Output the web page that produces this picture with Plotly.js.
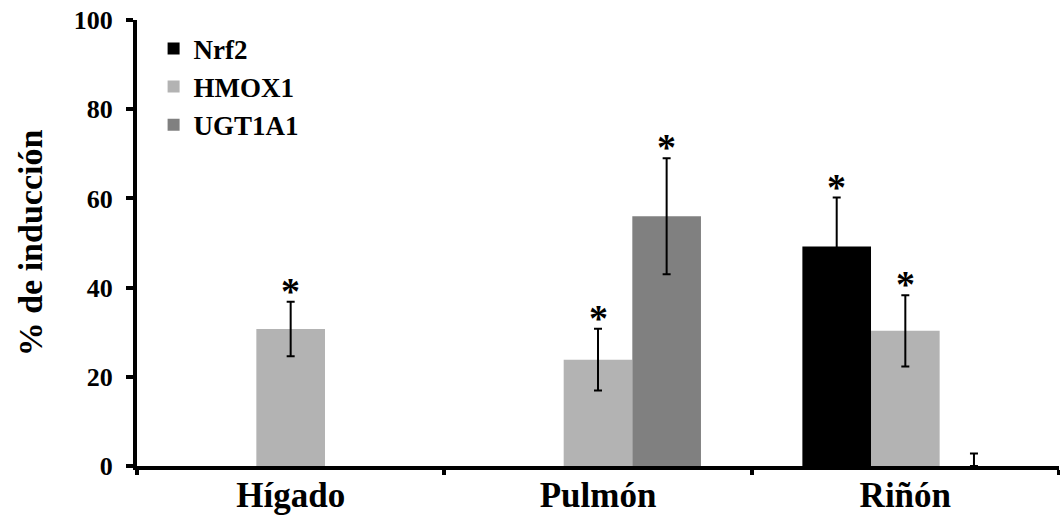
<!DOCTYPE html>
<html>
<head>
<meta charset="utf-8">
<script src="https://cdn.plot.ly/plotly-3.0.1.min.js"></script>
<style>
  html, body { margin: 0; padding: 0; background: #ffffff; }
  #chart { width: 1060px; height: 516px; }
</style>
</head>
<body>
<div id="chart"></div>
<script>
// Categories (tissues)
const categories = ['Hígado', 'Pulmón', 'Riñón'];

// Series names
const seriesNames = ['Nrf2', 'HMOX1', 'UGT1A1'];

// Series values (% de inducción)
const nrf2Values   = [null, null, 49.2];
const nrf2ErrUp    = [null, null, 11.0];
const nrf2ErrDown  = [null, null, 11.0];

const hmox1Values  = [30.7, 23.85, 30.3];
const hmox1ErrUp   = [6.1, 6.9, 8.0];
const hmox1ErrDown = [6.1, 6.9, 8.0];

const ugtValues    = [null, 56.0, 0];
const ugtErrUp     = [null, 13.0, 2.8];
const ugtErrDown   = [null, 13.0, 0];

// Significance marks (asterisks)
const nrf2Sig  = [false, false, true];
const hmox1Sig = [true, true, true];
const ugtSig   = [false, true, false];

const yTickVals = [0, 20, 40, 60, 80, 100];

const FONT = '"Liberation Serif", "Times New Roman", Times, serif';

function barTrace(name, vals, up, down, color) {
  return {
    type: 'bar',
    name: '<b>' + name + '</b>',
    x: categories,
    y: vals,
    marker: { color: color, line: { width: 0 } },
    error_y: {
      type: 'data', symmetric: false,
      array: up, arrayminus: down,
      color: '#000000', thickness: 2, width: 4, visible: true
    },
    hoverinfo: 'skip'
  };
}

const traces = [
  barTrace(seriesNames[0], nrf2Values, nrf2ErrUp, nrf2ErrDown, '#000000'),
  barTrace(seriesNames[1], hmox1Values, hmox1ErrUp, hmox1ErrDown, '#b3b3b3'),
  barTrace(seriesNames[2], ugtValues, ugtErrUp, ugtErrDown, '#808080')
];

// Asterisk annotations: placed above each significant error bar
const series = [
  { vals: nrf2Values, up: nrf2ErrUp, sig: nrf2Sig, off: -1 },
  { vals: hmox1Values, up: hmox1ErrUp, sig: hmox1Sig, off: 0 },
  { vals: ugtValues, up: ugtErrUp, sig: ugtSig, off: 1 }
];
const barSlot = (1 - 0.33) / 3;
const annotations = [];
series.forEach(s => {
  categories.forEach((c, i) => {
    if (s.sig[i] && s.vals[i] !== null) {
      annotations.push({
        x: i + s.off * barSlot, xref: 'x',
        y: s.vals[i] + s.up[i], yref: 'y',
        text: '<b>*</b>', showarrow: false,
        xanchor: 'center', yanchor: 'middle',
        yshift: 11,
        font: { family: FONT, size: 38, color: '#000000' }
      });
    }
  });
});

const layout = {
  width: 1060, height: 516,
  font: { family: FONT, color: '#000000' },
  margin: { l: 137, r: 1, t: 20, b: 50 },
  paper_bgcolor: '#ffffff', plot_bgcolor: '#ffffff',
  barmode: 'group', bargap: 0.33, bargroupgap: 0,
  showlegend: true,
  legend: {
    x: 0.018, y: 0.99, xanchor: 'left', yanchor: 'top',
    bgcolor: 'rgba(0,0,0,0)', borderwidth: 0,
    font: { family: FONT, size: 27, color: '#000000' },
    tracegroupgap: 0
  },
  xaxis: {
    type: 'category',
    range: [-0.5, 2.5],
    showline: true, linecolor: '#000000', linewidth: 4,
    showgrid: false, zeroline: false,
    ticks: 'outside', tickson: 'boundaries', ticklen: 5, tickwidth: 4, tickcolor: '#000000',
    ticklabelstandoff: -5,
    tickfont: { family: FONT, size: 35, color: '#000000', weight: 'bold' },
    fixedrange: true
  },
  yaxis: {
    range: [0, 100],
    tickvals: yTickVals,
    ticktext: yTickVals.map(String),
    showline: true, linecolor: '#000000', linewidth: 4,
    showgrid: false, zeroline: false,
    ticks: 'outside', ticklen: 7, tickwidth: 4, tickcolor: '#000000',
    ticklabelstandoff: 8,
    tickfont: { family: FONT, size: 26, color: '#000000', weight: 'bold' },
    title: {
      text: '% de inducción',
      font: { family: FONT, size: 34, color: '#000000', weight: 'bold' },
      standoff: 22
    },
    fixedrange: true
  },
  annotations: annotations
};

Plotly.newPlot('chart', traces, layout, { displayModeBar: false, staticPlot: true });
</script>
</body>
</html>
